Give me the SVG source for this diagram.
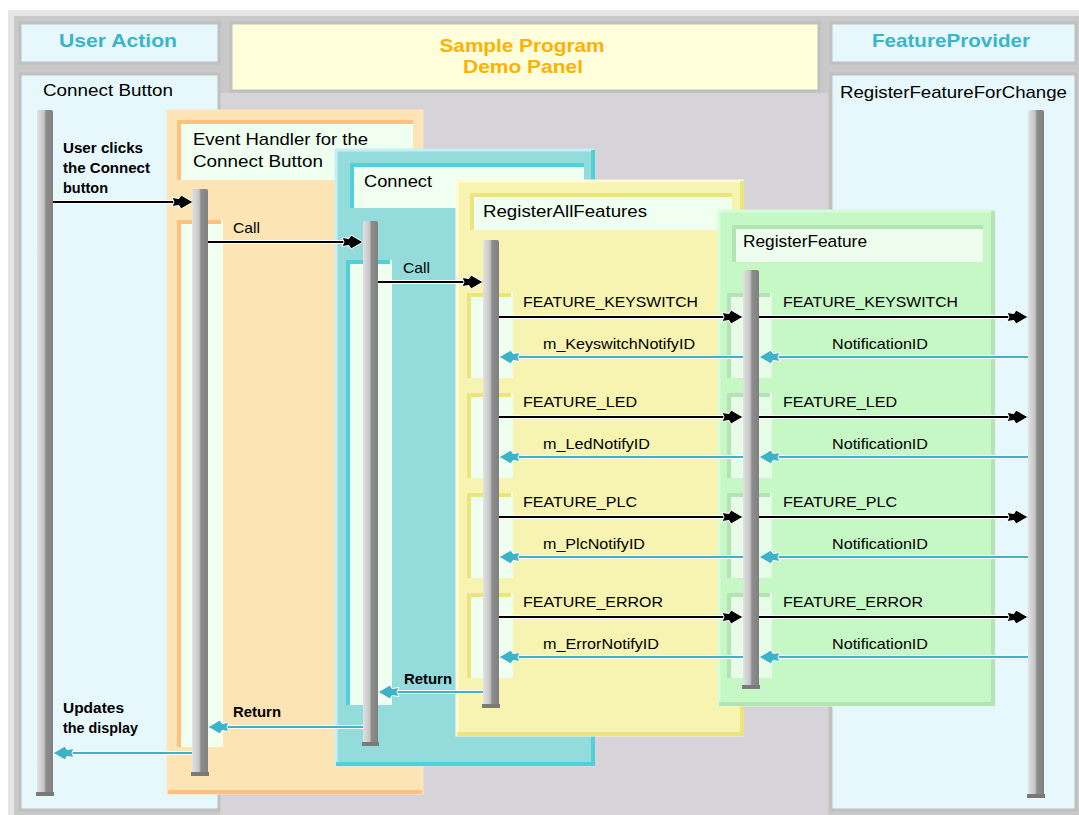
<svg xmlns="http://www.w3.org/2000/svg" width="1079" height="815" viewBox="0 0 1079 815">
<style>
text { font-family: "Liberation Sans", Arial, sans-serif; fill: #000; }
.hd { font-size: 19px; font-weight: bold; fill: #3cb4c8; text-anchor: middle; }
.dm { font-size: 19px; font-weight: bold; fill: #ffb000; text-anchor: middle; }
.ti { font-size: 17px; }
.lb { font-size: 15px; }
.bd { font-size: 14px; font-weight: bold; }
.side { fill: #e6f8fc; stroke: #c0c0c0; stroke-width: 3; }
.life { fill: url(#lg); }
.foot { fill: #7a7a7a; }
.halo { fill: none; stroke: #ffffff; stroke-width: 4; }
.call { fill: none; stroke: #000000; stroke-width: 2; marker-end: url(#ab); }
.ret { fill: none; stroke: #3cb4c8; stroke-width: 2; marker-end: url(#ac); }
.hbox { fill: #effff0; }
.edge { fill: none; stroke-width: 4; }
.o-body { fill: #fde4b4; stroke: #ffe4bc; stroke-width: 3; }
.o-dark { stroke: #ffc080; }
.c-body { fill: #94dcdc; stroke: #c8eef4; stroke-width: 3; }
.c-dark { stroke: #50d0d8; }
.y-body { fill: #f6f4b0; stroke: #fffad8; stroke-width: 3; }
.y-dark { stroke: #ece47c; }
.g-body { fill: #c6f8c6; stroke: #d8fcd8; stroke-width: 3; }
.g-dark { stroke: #b4e4b4; }
.fr { fill: #effff0; }
.gfr { fill: #e6fce6; }
</style>
<defs>
  <linearGradient id="lg" x1="0" y1="0" x2="1" y2="0">
    <stop offset="0" stop-color="#e2e2e2"/>
    <stop offset="0.45" stop-color="#c4c4c4"/>
    <stop offset="0.55" stop-color="#8e8e8e"/>
    <stop offset="1" stop-color="#808080"/>
  </linearGradient>
  <marker id="ab" markerUnits="userSpaceOnUse" viewBox="-23 -9 24 18" markerWidth="24" markerHeight="18" refX="0" refY="0" orient="auto">
    <path d="M0,0 L-12,-7 L-14,-3.5 L-21,-4.5 L-19,0 L-21,4.5 L-14,3.5 L-12,7 Z" fill="#000" stroke="#fff" stroke-width="1"/>
  </marker>
  <marker id="ac" markerUnits="userSpaceOnUse" viewBox="-23 -9 24 18" markerWidth="24" markerHeight="18" refX="0" refY="0" orient="auto">
    <path d="M0,0 L-12,-7 L-14,-3.5 L-21,-4.5 L-19,0 L-21,4.5 L-14,3.5 L-12,7 Z" fill="#3cb4c8" stroke="#fff" stroke-width="1"/>
  </marker>
</defs>

<g id="frame">
  <rect x="8" y="10" width="1071" height="805" fill="#e6e6e6"/>
  <rect x="14" y="16" width="1065" height="799" fill="#c9c9c9"/>
  <rect x="220" y="93" width="608" height="722" fill="#d6d4d8"/>
</g>

<g id="user-action">
  <rect class="side" x="20" y="23" width="199" height="40"/>
  <text class="hd" x="118" y="47" textLength="118" lengthAdjust="spacingAndGlyphs">User Action</text>
</g>

<g id="connect-button">
  <rect class="side" x="20" y="74" width="199" height="736"/>
  <text class="ti" x="43" y="96" textLength="130" lengthAdjust="spacingAndGlyphs">Connect Button</text>
  <rect class="life" x="37" y="110" width="16" height="685" rx="2"/>
  <rect class="foot" x="36" y="792" width="18" height="4"/>
</g>

<g id="demo-panel">
  <rect x="231" y="23" width="588" height="68" fill="#ffffdc" stroke="#c0c0c0" stroke-width="3"/>
  <text class="dm" x="522" y="52" textLength="165" lengthAdjust="spacingAndGlyphs">Sample Program</text>
  <text class="dm" x="523" y="73" textLength="120" lengthAdjust="spacingAndGlyphs">Demo Panel</text>
</g>

<g id="feature-provider">
  <rect class="side" x="831" y="23" width="245" height="40"/>
  <text class="hd" x="951" y="47" textLength="158" lengthAdjust="spacingAndGlyphs">FeatureProvider</text>
</g>

<g id="register-feature-for-change">
  <rect class="side" x="831" y="74" width="245" height="736"/>
  <text class="ti" x="840" y="98" textLength="227" lengthAdjust="spacingAndGlyphs">RegisterFeatureForChange</text>
  <rect class="life" x="1028" y="110" width="16" height="687" rx="2"/>
  <rect class="foot" x="1027" y="794" width="18" height="4"/>
</g>

<g id="event-handler">
  <rect class="o-body" x="168" y="111" width="254" height="682"/>
  <path class="edge o-dark" d="M168,792 H422" stroke-width="3"/>
  <rect class="hbox" x="177" y="120" width="236" height="60"/>
  <path class="edge o-dark" d="M179,180 V122 H413"/>
  <text class="ti" x="193" y="145" textLength="175" lengthAdjust="spacingAndGlyphs">Event Handler for the</text>
  <text class="ti" x="193" y="167" textLength="130" lengthAdjust="spacingAndGlyphs">Connect Button</text>
  <rect class="fr" x="177" y="220" width="46" height="527"/>
  <path class="edge o-dark" d="M179,747 V222 H221"/>
  <rect class="life" x="192" y="189" width="16" height="586" rx="2"/>
  <rect class="foot" x="191" y="772" width="18" height="4"/>
</g>

<g id="connect">
  <rect class="c-body" x="336" y="150" width="257" height="615"/>
  <path class="edge c-dark" d="M336,764 H593 V150" stroke-width="3"/>
  <rect class="hbox" x="350" y="163" width="234" height="45"/>
  <path class="edge c-dark" d="M352,208 V165 H584"/>
  <text class="ti" x="364" y="187" textLength="68" lengthAdjust="spacingAndGlyphs">Connect</text>
  <rect class="fr" x="346" y="260" width="46" height="445"/>
  <path class="edge c-dark" d="M348,705 V262 H390"/>
  <rect class="life" x="363" y="221" width="15" height="524" rx="2"/>
  <rect class="foot" x="362" y="742" width="17" height="4"/>
</g>

<g id="register-all-features">
  <rect class="y-body" x="457" y="181" width="285" height="554"/>
  <path class="edge y-dark" d="M457,734 H742 V181" stroke-width="3"/>
  <rect class="hbox" x="470" y="193" width="262" height="37"/>
  <path class="edge y-dark" d="M472,230 V195 H732"/>
  <text class="ti" x="483" y="217" textLength="164" lengthAdjust="spacingAndGlyphs">RegisterAllFeatures</text>
  <rect class="fr" x="467" y="293" width="46" height="85"/>
  <path class="edge y-dark" d="M469,378 V295 H511"/>
  <rect class="fr" x="467" y="393" width="46" height="85"/>
  <path class="edge y-dark" d="M469,478 V395 H511"/>
  <rect class="fr" x="467" y="493" width="46" height="85"/>
  <path class="edge y-dark" d="M469,578 V495 H511"/>
  <rect class="fr" x="467" y="593" width="46" height="85"/>
  <path class="edge y-dark" d="M469,678 V595 H511"/>
  <rect class="life" x="483" y="240" width="16" height="467" rx="2"/>
  <rect class="foot" x="482" y="704" width="18" height="4"/>
</g>

<g id="register-feature">
  <rect class="g-body" x="719" y="211" width="274" height="494"/>
  <path class="edge g-dark" d="M719,704 H993 V211" stroke-width="3"/>
  <rect class="hbox" x="732" y="225" width="251" height="37" style="fill:#eefcee"/>
  <path class="edge g-dark" d="M734,262 V227 H983"/>
  <text class="ti" x="743" y="247" textLength="124" lengthAdjust="spacingAndGlyphs">RegisterFeature</text>
  <rect class="gfr" x="727" y="293" width="45" height="85"/>
  <path class="edge g-dark" d="M729,378 V295 H770"/>
  <rect class="gfr" x="727" y="393" width="45" height="85"/>
  <path class="edge g-dark" d="M729,478 V395 H770"/>
  <rect class="gfr" x="727" y="493" width="45" height="85"/>
  <path class="edge g-dark" d="M729,578 V495 H770"/>
  <rect class="gfr" x="727" y="593" width="45" height="85"/>
  <path class="edge g-dark" d="M729,678 V595 H770"/>
  <rect class="life" x="743" y="270" width="16" height="418" rx="2"/>
  <rect class="foot" x="742" y="685" width="18" height="4"/>
</g>

<g id="connectors">
  <path class="halo" d="M53,202 H190"/><path class="call" d="M53,202 H193"/>
  <path class="halo" d="M208,242 H360"/><path class="call" d="M208,242 H363"/>
  <path class="halo" d="M378,282 H480"/><path class="call" d="M378,282 H483"/>

  <path class="halo" d="M499,317 H740"/><path class="call" d="M499,317 H743"/>
  <path class="halo" d="M759,317 H1025"/><path class="call" d="M759,317 H1028"/>
  <path class="halo" d="M743,357 H502"/><path class="ret" d="M743,357 H499"/>
  <path class="halo" d="M1028,357 H762"/><path class="ret" d="M1028,357 H759"/>

  <path class="halo" d="M499,417 H740"/><path class="call" d="M499,417 H743"/>
  <path class="halo" d="M759,417 H1025"/><path class="call" d="M759,417 H1028"/>
  <path class="halo" d="M743,457 H502"/><path class="ret" d="M743,457 H499"/>
  <path class="halo" d="M1028,457 H762"/><path class="ret" d="M1028,457 H759"/>

  <path class="halo" d="M499,517 H740"/><path class="call" d="M499,517 H743"/>
  <path class="halo" d="M759,517 H1025"/><path class="call" d="M759,517 H1028"/>
  <path class="halo" d="M743,557 H502"/><path class="ret" d="M743,557 H499"/>
  <path class="halo" d="M1028,557 H762"/><path class="ret" d="M1028,557 H759"/>

  <path class="halo" d="M499,617 H740"/><path class="call" d="M499,617 H743"/>
  <path class="halo" d="M759,617 H1025"/><path class="call" d="M759,617 H1028"/>
  <path class="halo" d="M743,657 H502"/><path class="ret" d="M743,657 H499"/>
  <path class="halo" d="M1028,657 H762"/><path class="ret" d="M1028,657 H759"/>

  <path class="halo" d="M483,692 H381"/><path class="ret" d="M483,692 H378"/>
  <path class="halo" d="M363,727 H211"/><path class="ret" d="M363,727 H208"/>
  <path class="halo" d="M192,753 H56"/><path class="ret" d="M192,753 H53"/>

  <text class="bd" x="63" y="153" textLength="80" lengthAdjust="spacingAndGlyphs">User clicks</text>
  <text class="bd" x="63" y="173" textLength="87" lengthAdjust="spacingAndGlyphs">the Connect</text>
  <text class="bd" x="63" y="193" textLength="45" lengthAdjust="spacingAndGlyphs">button</text>
  <text class="lb" x="233" y="233" textLength="27" lengthAdjust="spacingAndGlyphs">Call</text>
  <text class="lb" x="403" y="273" textLength="27" lengthAdjust="spacingAndGlyphs">Call</text>

  <text class="lb" x="523" y="307" textLength="175" lengthAdjust="spacingAndGlyphs">FEATURE_KEYSWITCH</text>
  <text class="lb" x="783" y="307" textLength="175" lengthAdjust="spacingAndGlyphs">FEATURE_KEYSWITCH</text>
  <text class="lb" x="543" y="349" textLength="152" lengthAdjust="spacingAndGlyphs">m_KeyswitchNotifyID</text>
  <text class="lb" x="832" y="349" textLength="96" lengthAdjust="spacingAndGlyphs">NotificationID</text>

  <text class="lb" x="523" y="407" textLength="114" lengthAdjust="spacingAndGlyphs">FEATURE_LED</text>
  <text class="lb" x="783" y="407" textLength="114" lengthAdjust="spacingAndGlyphs">FEATURE_LED</text>
  <text class="lb" x="543" y="449" textLength="107" lengthAdjust="spacingAndGlyphs">m_LedNotifyID</text>
  <text class="lb" x="832" y="449" textLength="96" lengthAdjust="spacingAndGlyphs">NotificationID</text>

  <text class="lb" x="523" y="507" textLength="114" lengthAdjust="spacingAndGlyphs">FEATURE_PLC</text>
  <text class="lb" x="783" y="507" textLength="114" lengthAdjust="spacingAndGlyphs">FEATURE_PLC</text>
  <text class="lb" x="543" y="549" textLength="102" lengthAdjust="spacingAndGlyphs">m_PlcNotifyID</text>
  <text class="lb" x="832" y="549" textLength="96" lengthAdjust="spacingAndGlyphs">NotificationID</text>

  <text class="lb" x="523" y="607" textLength="140" lengthAdjust="spacingAndGlyphs">FEATURE_ERROR</text>
  <text class="lb" x="783" y="607" textLength="140" lengthAdjust="spacingAndGlyphs">FEATURE_ERROR</text>
  <text class="lb" x="543" y="649" textLength="116" lengthAdjust="spacingAndGlyphs">m_ErrorNotifyID</text>
  <text class="lb" x="832" y="649" textLength="96" lengthAdjust="spacingAndGlyphs">NotificationID</text>

  <text class="bd" x="404" y="684" textLength="48" lengthAdjust="spacingAndGlyphs">Return</text>
  <text class="bd" x="233" y="717" textLength="48" lengthAdjust="spacingAndGlyphs">Return</text>
  <text class="bd" x="63" y="713" textLength="61" lengthAdjust="spacingAndGlyphs">Updates</text>
  <text class="bd" x="63" y="733" textLength="75" lengthAdjust="spacingAndGlyphs">the display</text>
</g>
</svg>
